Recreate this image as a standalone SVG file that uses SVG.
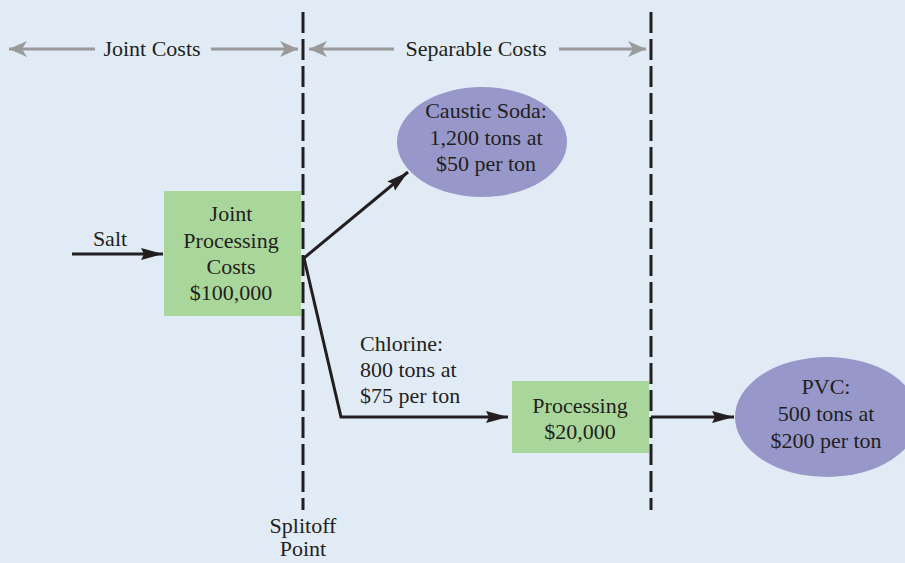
<svg xmlns="http://www.w3.org/2000/svg" width="905" height="563" viewBox="0 0 905 563">
<style>
text{font-family:"Liberation Serif","Times New Roman",serif;font-size:22px;fill:#231F20}
.c{text-anchor:middle}
.conn{stroke:#231F20;stroke-width:3;fill:none}
.gray{stroke:#9A9A9A;stroke-width:3;fill:none}
.dash{stroke:#231F20;stroke-width:3;stroke-dasharray:21 6}
.box{fill:#A9D69B}
.ell{fill:#9797CA}
</style>
<defs>
<marker id="ah" markerUnits="userSpaceOnUse" markerWidth="24" markerHeight="14" refX="22" refY="6" orient="auto">
<path d="M0,0 L22,6 L0,12 L3,6 z" fill="#231F20"/>
</marker>
<marker id="gh" markerUnits="userSpaceOnUse" markerWidth="20" markerHeight="18" refX="18" refY="8" orient="auto">
<path d="M0,0 L18,8 L0,16 L5,8 z" fill="#9A9A9A"/>
</marker>
</defs>
<rect width="905" height="563" fill="#E1EBF6"/>

<g id="dividers">
<line class="dash" x1="303" y1="12" x2="303" y2="510"/>
<line class="dash" x1="651" y1="12" x2="651" y2="510"/>
</g>

<g id="cost-ranges">
<line class="gray" x1="95" y1="49" x2="9" y2="49" marker-end="url(#gh)"/>
<line class="gray" x1="211" y1="49" x2="298" y2="49" marker-end="url(#gh)"/>
<text class="c" x="152" y="56">Joint Costs</text>
<line class="gray" x1="394" y1="49" x2="309" y2="49" marker-end="url(#gh)"/>
<line class="gray" x1="559" y1="49" x2="646" y2="49" marker-end="url(#gh)"/>
<text class="c" x="476" y="56">Separable Costs</text>
</g>

<g id="connectors">
<line class="conn" x1="72" y1="254" x2="163" y2="254" marker-end="url(#ah)"/>
<line class="conn" x1="304" y1="258" x2="408" y2="172" marker-end="url(#ah)"/>
<polyline class="conn" points="304,258 341,417 508,417" marker-end="url(#ah)"/>
<line class="conn" x1="651" y1="417" x2="734" y2="417" marker-end="url(#ah)"/>
</g>

<g id="salt">
<text class="c" x="110" y="246">Salt</text>
</g>

<g id="joint-processing">
<rect class="box" x="164" y="191" width="137" height="125"/>
<text class="c" x="231" y="221">Joint</text>
<text class="c" x="231" y="248">Processing</text>
<text class="c" x="231" y="274">Costs</text>
<text class="c" x="231" y="300">$100,000</text>
</g>

<g id="caustic-soda">
<ellipse class="ell" cx="482" cy="142" rx="85" ry="55"/>
<text class="c" x="486" y="118">Caustic Soda:</text>
<text class="c" x="486" y="145">1,200 tons at</text>
<text class="c" x="486" y="171">$50 per ton</text>
</g>

<g id="chlorine">
<text x="360" y="351">Chlorine:</text>
<text x="360" y="377">800 tons at</text>
<text x="360" y="403">$75 per ton</text>
</g>

<g id="processing">
<rect class="box" x="512" y="381" width="137" height="72"/>
<text class="c" x="580" y="413">Processing</text>
<text class="c" x="580" y="439">$20,000</text>
</g>

<g id="pvc">
<ellipse class="ell" cx="827" cy="417" rx="92" ry="60"/>
<text class="c" x="826" y="394">PVC:</text>
<text class="c" x="826" y="421">500 tons at</text>
<text class="c" x="826" y="448">$200 per ton</text>
</g>

<g id="splitoff">
<text class="c" x="303" y="533">Splitoff</text>
<text class="c" x="303" y="556">Point</text>
</g>
</svg>
